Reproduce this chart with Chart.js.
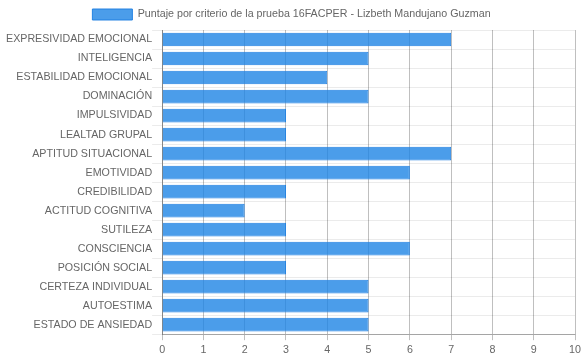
<!DOCTYPE html>
<html>
<head>
<meta charset="utf-8">
<script src="https://cdn.jsdelivr.net/npm/chart.js@4"></script>
<style>
  html, body { margin: 0; padding: 0; background: #fff; }
  #wrap { width: 584px; height: 359px; }
</style>
</head>
<body>
<div id="wrap"><canvas id="puntajeChart"></canvas></div>
<script>
const criterios = [
    'EXPRESIVIDAD EMOCIONAL', 'INTELIGENCIA', 'ESTABILIDAD EMOCIONAL', 'DOMINACIÓN',
    'IMPULSIVIDAD', 'LEALTAD GRUPAL', 'APTITUD SITUACIONAL', 'EMOTIVIDAD',
    'CREDIBILIDAD', 'ACTITUD COGNITIVA', 'SUTILEZA', 'CONSCIENCIA',
    'POSICIÓN SOCIAL', 'CERTEZA INDIVIDUAL', 'AUTOESTIMA', 'ESTADO DE ANSIEDAD'
];
const puntajes = [7, 5, 4, 5, 3, 3, 7, 6, 3, 2, 3, 6, 3, 5, 5, 5];
const etiquetaSerie = 'Puntaje por criterio de la prueba 16FACPER - Lizbeth Mandujano Guzman';

Chart.defaults.font.family = '"Liberation Sans", Arial, sans-serif';
Chart.defaults.font.size = 10.7;
Chart.defaults.color = '#666';

const ctx = document.getElementById('puntajeChart').getContext('2d');
const puntajeChart = new Chart(ctx, {
    type: 'bar',
    data: {
        labels: criterios,
        datasets: [{
            label: etiquetaSerie,
            data: puntajes,
            backgroundColor: 'rgba(30, 132, 229, 0.8)',
            borderColor: 'rgba(30, 128, 226, 0.95)',
            borderWidth: 1
        }]
    },
    options: {
        indexAxis: 'y',
        responsive: true,
        maintainAspectRatio: false,
        animation: false,
        layout: { padding: { left: 6, right: 7, bottom: 0, top: 0 } },
        plugins: {
            legend: {
                position: 'top',
                labels: { boxWidth: 40, boxHeight: 11, padding: 9 }
            },
            tooltip: { enabled: false }
        },
        scales: {
            x: {
                min: 0,
                max: 10,
                ticks: { stepSize: 1, padding: 3 },
                grid: { color: 'rgba(0,0,0,0.25)', tickLength: 6 },
                border: { color: 'rgba(0,0,0,0.3)' }
            },
            y: {
                ticks: { padding: 0 },
                grid: { color: 'rgba(0,0,0,0.08)', tickLength: 10 },
                border: { color: 'rgba(0,0,0,0.3)' }
            }
        }
    }
});
</script>
</body>
</html>
